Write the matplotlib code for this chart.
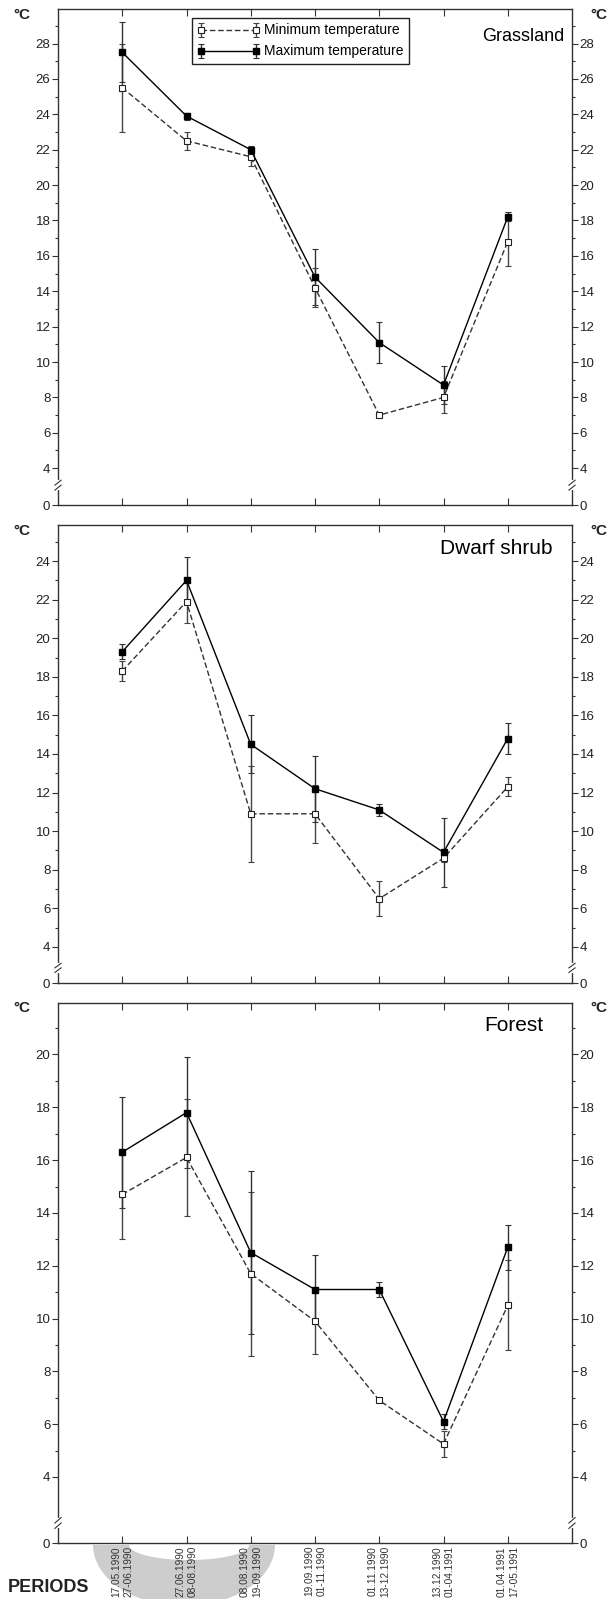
import matplotlib.pyplot as plt
from matplotlib.patches import Polygon
import numpy as np

plt.rcParams['font.family'] = ['Liberation Sans', 'DejaVu Sans']

## DADOS
periods = ['17.05.1990\n27-06.1990', '27.06.1990\n08-08.1990', '08.08.1990\n19-09.1990',
           '19.09.1990\n01-11.1990', '01.11.1990\n13-12.1990', '13.12.1990\n01-04.1991',
           '01.04.1991\n17-05.1991']

grass_min = [25.5, 22.5, 21.6, 14.2, 7.0, 8.0, 16.8]
grass_min_err = [2.5, 0.5, 0.5, 1.1, 0.0, 0.9, 1.4]
grass_max = [27.5, 23.9, 22.0, 14.8, 11.1, 8.7, 18.2]
grass_max_err = [1.7, 0.2, 0.2, 1.6, 1.15, 1.1, 0.25]

shrub_min = [18.3, 21.9, 10.9, 10.9, 6.5, 8.6, 12.3]
shrub_min_err = [0.5, 1.1, 2.5, 1.5, 0.9, 0.2, 0.5]
shrub_max = [19.3, 23.0, 14.5, 12.2, 11.1, 8.9, 14.8]
shrub_max_err = [0.4, 1.2, 1.5, 1.7, 0.3, 1.8, 0.8]

forest_min = [14.7, 16.1, 11.7, 9.9, 6.9, 5.25, 10.5]
forest_min_err = [1.7, 2.2, 3.1, 1.25, 0.0, 0.5, 1.7]
forest_max = [16.3, 17.8, 12.5, 11.1, 11.1, 6.1, 12.7]
forest_max_err = [2.1, 2.1, 3.1, 1.3, 0.3, 0.3, 0.85]

panels = [
    ('Grassland', grass_min, grass_min_err, grass_max, grass_max_err, 28),
    ('Dwarf shrub', shrub_min, shrub_min_err, shrub_max, shrub_max_err, 24),
    ('Forest', forest_min, forest_min_err, forest_max, forest_max_err, 20),
]

# posicao dos paineis em pixels (topo, base) e limites y
W, H = 610, 1599
rects = [(9, 505), (525, 983), (1003, 1543)]
ylims = [(1.92, 29.95), (2.13, 25.87), (1.5, 21.95)]
title_xy = [(0.985, 0.945), (0.962, 0.948), (0.945, 0.958)]
title_size = [13, 15, 15]

fig = plt.figure(figsize=(W / 100, H / 100), dpi=100)
x = np.arange(len(periods))

for i, (name, vmin, emin, vmax, emax, ytop) in enumerate(panels):
    top, bot = rects[i]
    ax = fig.add_axes([58 / W, 1 - bot / H, (572 - 58) / W, (bot - top) / H])

    h_min = ax.errorbar(x, vmin, yerr=emin, fmt='s--', color='#333333', mfc='white', mec='#222222',
                        ms=5, mew=0.8, lw=1.0, dashes=(4, 2), ecolor='#444444', elinewidth=1.0,
                        capsize=2, capthick=0.8, label='Minimum temperature')
    h_max = ax.errorbar(x, vmax, yerr=emax, fmt='s-', color='black', mfc='black', mec='black',
                        ms=5, lw=1.0, ecolor='#333333', elinewidth=1.0,
                        capsize=2, capthick=0.8, label='Maximum temperature')

    ax.set_xlim(-1, 7)
    ax.set_ylim(*ylims[i])
    yt = [ylims[i][0]] + list(range(4, ytop + 1, 2))
    ax.set_yticks(yt)
    ax.set_yticklabels(['0'] + [str(v) for v in range(4, ytop + 1, 2)])
    ax.set_yticks(list(range(5, int(ylims[i][1]) + 1, 2)), minor=True)
    ax.set_xticks(x)

    ax.tick_params(axis='y', which='both', direction='out', left=True, right=True,
                   labelleft=True, labelright=True, labelsize=9.5, width=0.8, pad=1.5,
                   colors='#333333', labelcolor='#222222')
    ax.tick_params(axis='y', which='major', length=4)
    ax.tick_params(axis='y', which='minor', length=2.5)
    ax.tick_params(axis='x', direction='in', top=True, bottom=True, length=5, width=0.8,
                   colors='#333333')
    for s in ax.spines.values():
        s.set_linewidth(1.0)
        s.set_color('#333333')

    if i < 2:
        ax.set_xticklabels([])
    else:
        ax.set_xticklabels(periods, rotation=90, fontsize=7.3, va='top', ha='center',
                           linespacing=1.3, color='#333333')
        ax.tick_params(axis='x', pad=2)

    # quebra do eixo
    yb = [0.04, 0.033, 0.037][i]
    for xs in (0, 1):
        ax.plot([xs, xs], [yb - 0.006, yb + 0.006], color='white', lw=3,
                transform=ax.transAxes, clip_on=False, zorder=5)
        for dy in (-0.005, 0.005):
            ax.plot([xs - 0.006, xs + 0.006], [yb + dy - 0.005, yb + dy + 0.005],
                    color='#333333', lw=0.8, transform=ax.transAxes, clip_on=False, zorder=6)

    ax.text(title_xy[i][0], title_xy[i][1], name, transform=ax.transAxes, ha='right',
            va='center', fontsize=title_size[i])
    ax.text(-0.07, 1.003, '°C', transform=ax.transAxes, ha='center', va='top',
            fontsize=11, fontweight='bold', color='#222222')
    ax.text(1.052, 1.003, '°C', transform=ax.transAxes, ha='center', va='top',
            fontsize=11, fontweight='bold', color='#222222')

    if i == 0:
        ax.legend([h_min, h_max], ['Minimum temperature', 'Maximum temperature'],
                  loc='upper left', bbox_to_anchor=(0.26, 0.982), borderaxespad=0,
                  fontsize=10, numpoints=2, handlelength=4.5, handletextpad=0.3,
                  labelspacing=0.5, fancybox=False, framealpha=1, edgecolor='#222222',
                  borderpad=0.4)

# mancha cinza
t = np.linspace(0, np.pi, 60)
outer = np.column_stack([184 + 91 * np.cos(t), 1545 + 61 * np.sin(t)])
inner = np.column_stack([189 - 60 * np.cos(t), 1545 + 15 * np.sin(t)])
pts = np.vstack([outer, inner])
pts = np.column_stack([pts[:, 0] / W, 1 - pts[:, 1] / H])
fig.add_artist(Polygon(pts, closed=True, transform=fig.transFigure, facecolor='#cdcdcd',
                       edgecolor='none', zorder=-1))

fig.text(8 / W, 1 - 1588 / H, 'PERIODS', fontsize=13, fontweight='bold', va='center',
         ha='left', color='#222222')

fig.savefig('out.png', dpi=100)
